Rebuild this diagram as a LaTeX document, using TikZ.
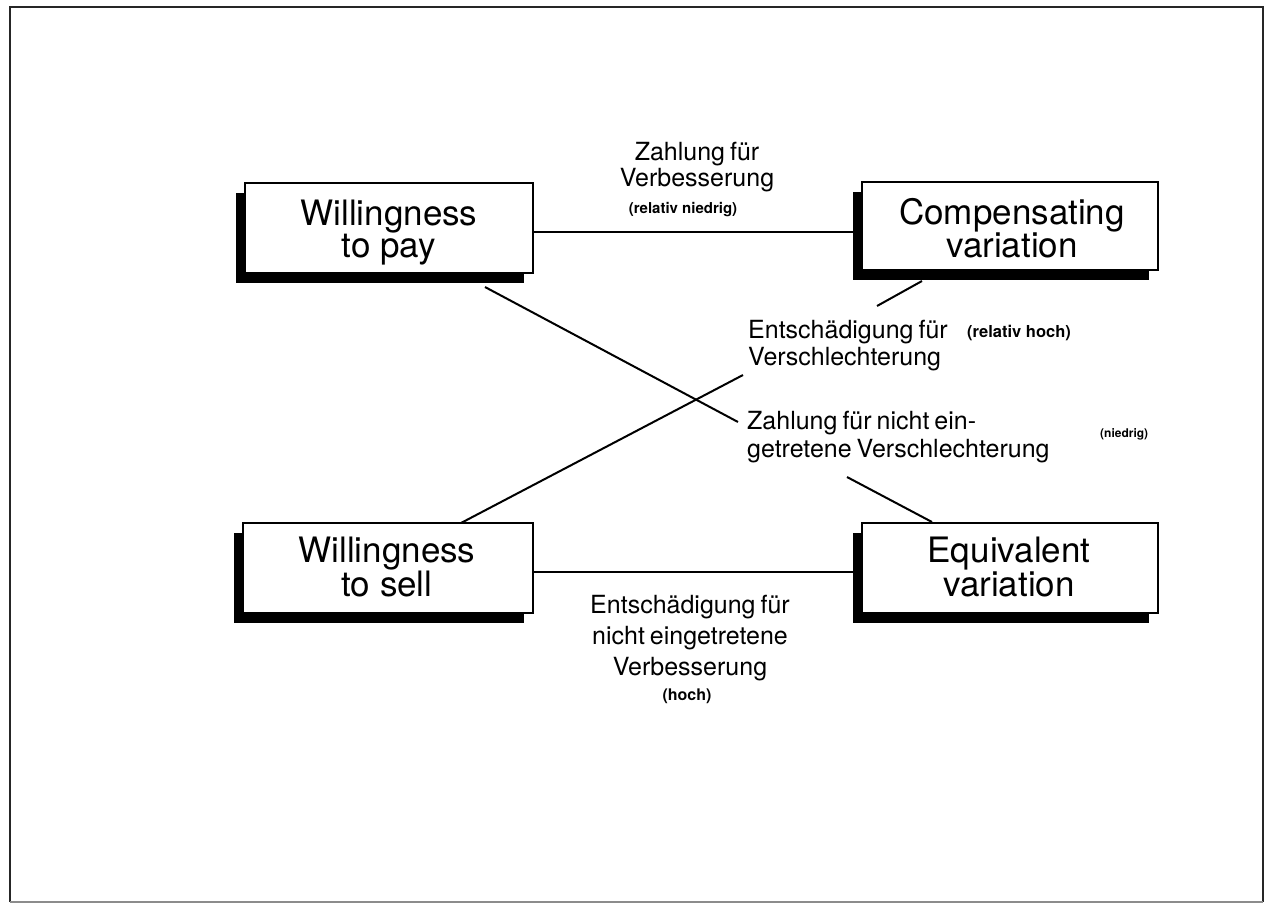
\documentclass[tikz,border=0pt]{standalone}
\usepackage{fontspec}
\setmainfont{TeX Gyre Heros}
\usetikzlibrary{shadows}
\newcommand\mylblfont[1]{\fontsize{25}{#1}\selectfont\spaceskip=0.2em plus 0.05em\relax}
\begin{document}
\begin{tikzpicture}[x=1pt,y=-1pt,
  framepath/.style={draw=black!85, line width=2.5pt},
  varbox/.style={draw=black, line width=2pt, fill=white, rectangle, inner sep=0pt,
     minimum width=290pt, minimum height=90pt,
     drop shadow={shadow xshift=-9pt, shadow yshift=-10pt, opacity=1, fill=black}},
  boxtext/.style={inner sep=0pt, align=center, font=\fontsize{35}{30}\selectfont},
  lbl/.style={inner sep=0pt, font=\mylblfont{27}},
  smalllbl/.style={inner sep=0pt, font=\fontsize{15}{17}\selectfont\bfseries},
  conn/.style={draw=black, line width=2pt}
]
\useasboundingbox (0,0) rectangle (1267,905);
% frame
\draw[framepath] (10,902) -- (10,7) -- (1263,7) -- (1263,902);
\draw[draw=black!45, line width=1.2pt] (10,902) -- (1263,902);

% boxes
\node[varbox, minimum width=288pt] (wtp) at (389,228) {};
\node[varbox, minimum width=296pt, minimum height=88pt] (cv) at (1010,226) {};
\node[varbox] (wts) at (388,567.5) {};
\node[varbox, minimum width=296pt] (ev) at (1010,567.5) {};

\node[boxtext] (wtpt) at (389,233) {Willingness\\to pay};
\node[boxtext] (cvt) at (1012,228) {Compensating\\variation};
\node[boxtext] (wtst) at (387,567) {Willingness\\to sell};
\node[boxtext] (evt) at (1009,567) {Equivalent\\variation};

% labels
\node[lbl, align=center, anchor=north, font=\mylblfont{26}] (l1) at (697,142) {Zahlung für\\Verbesserung};
\node[smalllbl, anchor=base] (l1s) at (683,213) {(relativ niedrig)};

\node[lbl, align=left, anchor=north west] (l2) at (748,320) {Entschädigung für\\Verschlechterung};
\node[smalllbl, anchor=base west, font=\fontsize{16.5}{18}\selectfont\bfseries] (l2s) at (967,337) {(relativ hoch)};

\node[lbl, align=left, anchor=north west, font=\mylblfont{28}] (l3) at (747,411) {Zahlung für nicht ein-\\getretene Verschlechterung};
\node[smalllbl, anchor=base west, font=\fontsize{12}{14}\selectfont\bfseries] (l3s) at (1100,437) {(niedrig)};

\node[lbl, align=center, anchor=north, font=\mylblfont{31}] (l4) at (690,595) {Entschädigung für\\nicht eingetretene\\Verbesserung};
\node[smalllbl, anchor=base, font=\fontsize{16}{18}\selectfont\bfseries] (l4s) at (687,700) {(hoch)};

% connector end points
\coordinate (a1) at (485,287);
\coordinate (a2) at (738,422);
\coordinate (b1) at (461,523);
\coordinate (b2) at (743,375);
\coordinate (c1) at (922,281);
\coordinate (c2) at (877,306);
\coordinate (d1) at (847,477);
\coordinate (d2) at (932,522);

% connectors
\draw[conn] ([yshift=-4pt]wtp.east) -- ([yshift=-4pt]wtp.east -| cv.west);
\draw[conn] ([yshift=-4.5pt]wts.east) -- ([yshift=-4.5pt]wts.east -| ev.west);
\draw[conn] (a1) -- (a2);
\draw[conn] (b1) -- (b2);
\draw[conn] (c1) -- (c2);
\draw[conn] (d1) -- (d2);
\end{tikzpicture}
\end{document}
